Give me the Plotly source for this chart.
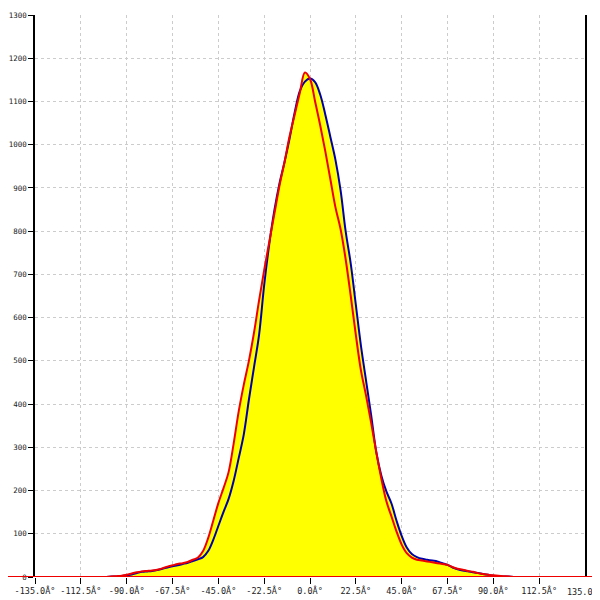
import plotly.graph_objects as go

angles = [-100 + 2.5 * i for i in range(81)]

red_values = [0, 1, 2, 3, 5, 8, 11, 13, 14, 15, 17, 20, 24, 27, 30, 32, 35, 40, 45, 60,
              90, 130, 171, 205, 242, 308, 383, 445, 500, 565, 640, 710, 775, 840, 905, 960,
              1020, 1070, 1120, 1167, 1152, 1100, 1045, 985, 920, 855, 805, 735, 650, 560,
              478, 420, 357, 290, 228, 175, 140, 105, 75, 55, 45, 40, 38, 36, 34, 32, 30, 28,
              23, 19, 17, 14, 12, 9, 7, 5, 4, 3, 2, 1, 0]

blue_values = [0, 1, 1, 2, 4, 6, 9, 12, 13, 14, 16, 19, 22, 25, 27, 30, 33, 37, 41, 46,
               60, 86, 118, 150, 180, 222, 275, 330, 410, 485, 560, 675, 770, 848, 910, 960,
               1015, 1075, 1124, 1146, 1153, 1145, 1116, 1070, 1018, 965, 895, 800, 725, 630,
               535, 455, 375, 290, 235, 198, 170, 130, 95, 68, 53, 46, 42, 40, 38, 36, 32, 28,
               22, 18, 15, 13, 11, 9, 7, 5, 3, 2, 1, 1, 0]

x_tick_vals = [-135 + 22.5 * i for i in range(13)]
x_tick_text = ["%.1fÂ°" % v for v in x_tick_vals]
y_tick_vals = list(range(0, 1400, 100))

fill_values = [max(r, b) for r, b in zip(red_values, blue_values)]

x_font = dict(family="DejaVu Sans Mono", size=8.5, color="#222222")

fig = go.Figure()
fig.add_trace(go.Scatter(x=angles, y=fill_values, mode="lines", fill="tozeroy",
                         fillcolor="#ffff00", line=dict(width=0, color="#ffff00", shape="spline"),
                         hoverinfo="skip"))
fig.add_trace(go.Scatter(x=angles, y=blue_values, mode="lines",
                         line=dict(color="#0000aa", width=2, shape="spline")))
fig.add_trace(go.Scatter(x=angles, y=red_values, mode="lines",
                         line=dict(color="#ee0000", width=2, shape="spline")))

fig.add_shape(type="line", xref="paper", yref="y", x0=-0.065, x1=1.04, y0=0, y1=0,
              line=dict(color="#ee0000", width=2), layer="above")

# last tick label (cut by the right edge, as in the reference)
fig.add_annotation(x=x_tick_vals[-1], y=0, xref="x", yref="paper", text=x_tick_text[-1],
                   showarrow=False, yanchor="top", xanchor="center", yshift=-7,
                   font=x_font)

fig.update_layout(
    width=592, height=592,
    margin=dict(l=27, r=15, t=7, b=23),
    paper_bgcolor="white", plot_bgcolor="white",
    showlegend=False,
    xaxis=dict(range=[-135, 135], tickvals=x_tick_vals[:-1], ticktext=x_tick_text[:-1],
               tickfont=x_font, tickangle=0, automargin=False,
               ticks="outside", ticklen=6, tickcolor="black",
               showgrid=True, gridcolor="#cccccc", griddash="3px,3px", gridwidth=1,
               showline=False, zeroline=False),
    yaxis=dict(range=[0, 1300], tickvals=y_tick_vals, automargin=False,
               tickfont=dict(family="DejaVu Sans Mono", size=7.5, color="#222222"),
               ticks="outside", ticklen=5, tickcolor="black",
               showgrid=True, gridcolor="#cccccc", griddash="3px,3px", gridwidth=1,
               showline=True, linecolor="black", linewidth=1.5, mirror=True,
               zeroline=False),
)

fig.write_html("out.html")
